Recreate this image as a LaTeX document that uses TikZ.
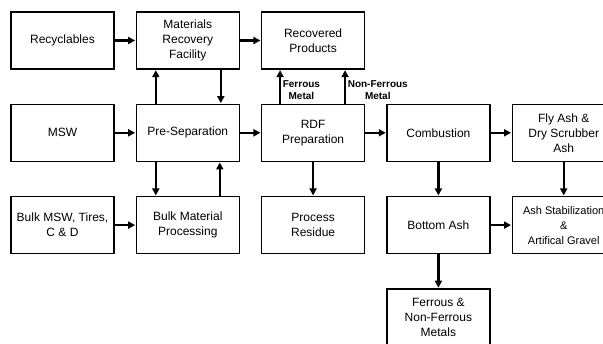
\documentclass[tikz,border=0pt]{standalone}
\usepackage{fontspec}
\setmainfont{Liberation Sans}
\usetikzlibrary{arrows.meta, positioning}

\begin{document}
\begin{tikzpicture}[
  node distance=34pt and 21pt,
  unit/.style={rectangle, draw, line width=1.3pt, minimum width=103pt, minimum height=57pt,
               align=center, font=\fontsize{12}{15}\selectfont},
  arr/.style={-{Triangle[length=7pt, width=7pt]}, line width=2.4pt, shorten >=0.5pt},
  tag/.style={align=center, inner sep=1.5pt, font=\fontsize{10}{12}\selectfont\bfseries}
]
  \useasboundingbox (-62.5pt,40.5pt) rectangle (540.5pt,-303.5pt);
  \node[unit] (recyc) {Recyclables};
  \node[unit, right=of recyc] (mrf) {Materials\\Recovery\\Facility};
  \node[unit, right=of mrf] (recov) {Recovered\\Products};
  \node[unit, below=of recyc] (msw) {MSW};
  \node[unit, right=of msw] (presep) {Pre-Separation};
  \node[unit, right=of presep] (rdf) {RDF\\Preparation};
  \node[unit, right=of rdf] (comb) {Combustion};
  \node[unit, right=of comb] (flyash) {Fly Ash \&\\Dry Scrubber\\Ash};
  \node[unit, below=of msw] (bulk) {Bulk MSW, Tires,\\C \& D};
  \node[unit, right=of bulk] (bulkproc) {Bulk Material\\Processing};
  \node[unit, right=of bulkproc] (resid) {Process\\Residue};
  \node[unit, right=of resid] (bottom) {Bottom Ash};
  \node[unit, right=of bottom, font=\fontsize{11}{15}\selectfont] (stab) {Ash Stabilization\\\&\\Artifical Gravel};
  \node[unit, below=of bottom] (metals) {Ferrous \&\\Non-Ferrous\\Metals};
  \draw[arr] (recyc) -- (mrf);
  \draw[arr] (mrf) -- (recov);
  \draw[arr] ([xshift=-32pt]presep.north) -- ([xshift=-32pt]mrf.south);
  \draw[arr] ([xshift=33pt]mrf.south) -- ([xshift=33pt]presep.north);
  \draw[arr] (msw) -- (presep);
  \draw[arr] (presep) -- (rdf);
  \draw[arr] (rdf) -- (comb);
  \draw[arr] (comb) -- (flyash);
  \draw[arr] ([xshift=-33pt]rdf.north) -- node[tag, right, pos=0.4] {Ferrous\\Metal} ([xshift=-33pt]recov.south);
  \draw[arr] ([xshift=32pt]rdf.north) -- node[tag, right, pos=0.4] {Non-Ferrous\\Metal} ([xshift=32pt]recov.south);
  \draw[arr] ([xshift=-32pt]presep.south) -- ([xshift=-32pt]bulkproc.north);
  \draw[arr] ([xshift=32pt]bulkproc.north) -- ([xshift=32pt]presep.south);
  \draw[arr] (bulk) -- (bulkproc);
  \draw[arr] (rdf) -- (resid);
  \draw[arr] (comb) -- (bottom);
  \draw[arr] (flyash) -- (stab);
  \draw[arr] (bottom) -- (stab);
  \draw[arr] (bottom) -- (metals);
\end{tikzpicture}
\end{document}
